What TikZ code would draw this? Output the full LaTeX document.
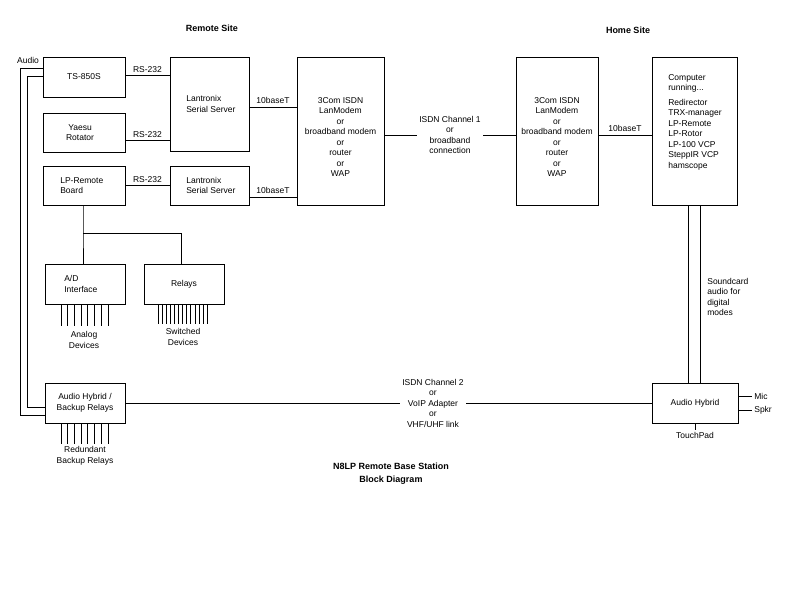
\documentclass[tikz,border=0pt]{standalone}
\usepackage{fontspec}
\setmainfont{Liberation Sans}
\begin{document}
\begin{tikzpicture}[x=1pt,y=-1pt,line width=0.65pt,
  box/.style={draw,rectangle,inner sep=0pt},
  txt/.style={font=\fontsize{8.5}{10.5}\selectfont,align=left,inner sep=0pt},
  ctxt/.style={font=\fontsize{8.5}{10.5}\selectfont,align=center,inner sep=0pt},
  ttl/.style={font=\fontsize{9}{13}\selectfont\bfseries,align=center,inner sep=0pt}]
\useasboundingbox (0,0) rectangle (800,600);
% boxes
\node[box,minimum width=82,minimum height=40] (ts) at (84,77) {};
\node[ctxt] at (84,77) {TS-850S};
\node[box,minimum width=79,minimum height=94] (lan1) at (209.5,104) {};
\node[txt,anchor=west] at (186,104) {Lantronix\\Serial Server};
\node[box,minimum width=82,minimum height=39] (yae) at (84,132.5) {};
\node[ctxt] at (80,132.5) {Yaesu\\Rotator};
\node[box,minimum width=82,minimum height=39] (lpr) at (84,185.5) {};
\node[txt,anchor=west] at (60,185.5) {LP-Remote\\Board};
\node[box,minimum width=79,minimum height=39] (lan2) at (209.5,185.5) {};
\node[txt,anchor=west] at (186,185.5) {Lantronix\\Serial Server};
\node[box,minimum width=87,minimum height=148] (isdnL) at (340.5,131) {};
\node[ctxt] at (340.5,137) {3Com ISDN\\LanModem\\or\\broadband modem\\or\\router\\or\\WAP};
\node[box,minimum width=82,minimum height=148] (isdnR) at (557,131) {};
\node[ctxt] at (557,137) {3Com ISDN\\LanModem\\or\\broadband modem\\or\\router\\or\\WAP};
\node[box,minimum width=85,minimum height=148] (comp) at (694.5,131) {};
\node[txt,anchor=north west] at (668,74) {Computer\\running...\\[4pt]Redirector\\TRX-manager\\LP-Remote\\LP-Rotor\\LP-100 VCP\\SteppIR VCP\\hamscope};
\node[box,minimum width=80,minimum height=40] (ad) at (85,284) {};
\node[txt,anchor=west] at (64,284) {A/D\\Interface};
\node[box,minimum width=80,minimum height=40] (rel) at (184,284) {};
\node[ctxt] at (184,284) {Relays};
\node[box,minimum width=80,minimum height=40] (hybL) at (85,403) {};
\node[ctxt] at (85,403) {Audio Hybrid /\\Backup Relays};
\node[box,minimum width=86,minimum height=40] (hybR) at (695,403) {};
\node[ctxt] at (695,403) {Audio Hybrid};
% titles
\node[ttl] (t1) at (212,28) {Remote Site};
\node[ttl] (t2) at (628,30) {Home Site};
\node[ttl] (t3) at (391,474) {N8LP Remote Base Station\\Block Diagram};
% connections
\draw (ts.east |- 0,75) -- node[ctxt,above=2pt]{RS-232} (lan1.west |- 0,75);
\draw (yae.east |- 0,140) -- node[ctxt,above=2pt]{RS-232} (lan1.west |- 0,140);
\draw (lpr.east |- 0,185) -- node[ctxt,above=2pt]{RS-232} (lan2.west |- 0,185);
\draw (lan1.east |- 0,107) -- node[ctxt,above=3pt]{10baseT} (isdnL.west |- 0,107);
\draw (lan2.east |- 0,197) -- node[ctxt,above=3pt]{10baseT} (isdnL.west |- 0,197);
\draw (isdnL.east |- 0,135) -- (isdnR.west |- 0,135);
\node[ctxt,fill=white,inner xsep=2pt] (c1) at (450,135) {ISDN Channel 1\\or\\broadband\\connection};
\draw (isdnR.east |- 0,135) -- node[ctxt,above=3pt]{10baseT} (comp.west |- 0,135);
\draw (hybL.east) -- (hybR.west);
\node[ctxt,fill=white,inner xsep=2pt] at (433,403) {ISDN Channel 2\\or\\VoIP Adapter\\or\\VHF/UHF link};
\draw (688,205) -- (688,383);
\draw (700,205) -- (700,383);
\node[txt,anchor=north west] at (707,278) {Soundcard\\audio for\\digital\\modes};
\coordinate (m) at (752,396);
\coordinate (s) at (752,410);
\draw (hybR.east |- m) -- (m) node[txt,anchor=west,xshift=2pt]{Mic};
\draw (hybR.east |- s) -- (s) node[txt,anchor=west,xshift=2pt]{Spkr};
\coordinate (tp) at (695,430);
\draw (hybR.south) -- (tp) node[ctxt,anchor=north,yshift=-2pt]{TouchPad};
% LP-Remote tree
\coordinate (j) at (83,233);
\draw (lpr.south -| j) -- (j) -- (ad.north -| j);
\draw (j) -- (181,233) -- (rel.north -| 181,0);
% audio lines
\draw (ts.west |- 0,68) -- (20,68) -- (20,415) -- (hybL.west |- 0,415);
\draw (ts.west |- 0,76) -- (27,76) -- (27,407) -- (hybL.west |- 0,407);
\node[txt] at (28,60) {Audio};
% pins
\foreach \i in {0,...,7} \draw (61+\i*6.7,304) -- (61+\i*6.7,326);
\foreach \i in {0,...,12} \draw (158+\i*4.1,304) -- (158+\i*4.1,324);
\foreach \i in {0,...,7} \draw (61+\i*6.7,423) -- (61+\i*6.7,444);
\node[ctxt] at (84,340) {Analog\\Devices};
\node[ctxt] at (183,337) {Switched\\Devices};
\node[ctxt] at (85,456) {Redundant\\Backup Relays};
\end{tikzpicture}
\end{document}
